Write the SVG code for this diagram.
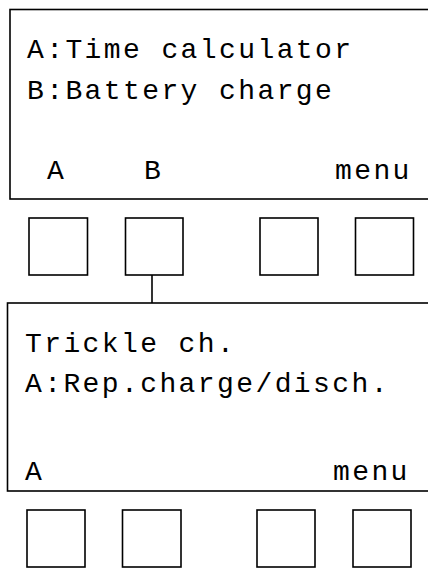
<svg xmlns="http://www.w3.org/2000/svg" width="428" height="568" viewBox="0 0 428 568">
<style>
.scr{fill:#fff;stroke:#000;stroke-width:1.6}
.btn{fill:#fff;stroke:#000;stroke-width:1.6}
.t{font-family:"Courier New","Nimbus Mono PS","FreeMono","Liberation Mono",monospace;font-size:28px;letter-spacing:2.4px;fill:#000}
.ln{stroke:#000;stroke-width:1.6;fill:none}
</style>
<rect width="428" height="568" fill="#fff"/>
<g id="screen1">
<rect class="scr" x="10" y="9.5" width="430" height="189.5"/>
<text class="t" x="27" y="58">A:Time calculator</text>
<text class="t" x="27" y="99">B:Battery charge</text>
<text class="t" x="47" y="179">A</text>
<text class="t" x="144" y="179">B</text>
<text class="t" x="335" y="179">menu</text>
</g>
<g id="buttons1">
<rect class="btn" x="29" y="218" width="58.5" height="57"/>
<rect class="btn" x="125.5" y="218" width="57.5" height="57"/>
<rect class="btn" x="260" y="218" width="58" height="57"/>
<rect class="btn" x="355.5" y="218" width="58" height="57"/>
</g>
<g id="connectors">
<line class="ln" x1="152" y1="275" x2="152" y2="303"/>
</g>
<g id="screen2">
<rect class="scr" x="7.5" y="303" width="430" height="188"/>
<text class="t" x="25" y="352">Trickle ch.</text>
<text class="t" x="25" y="392">A:Rep.charge/disch.</text>
<text class="t" x="25" y="480">A</text>
<text class="t" x="333" y="480">menu</text>
</g>
<g id="buttons2">
<rect class="btn" x="27" y="510" width="58" height="57"/>
<rect class="btn" x="122.5" y="510" width="58.5" height="57"/>
<rect class="btn" x="257" y="510" width="58" height="57"/>
<rect class="btn" x="353" y="510" width="58" height="57"/>
</g>
</svg>
